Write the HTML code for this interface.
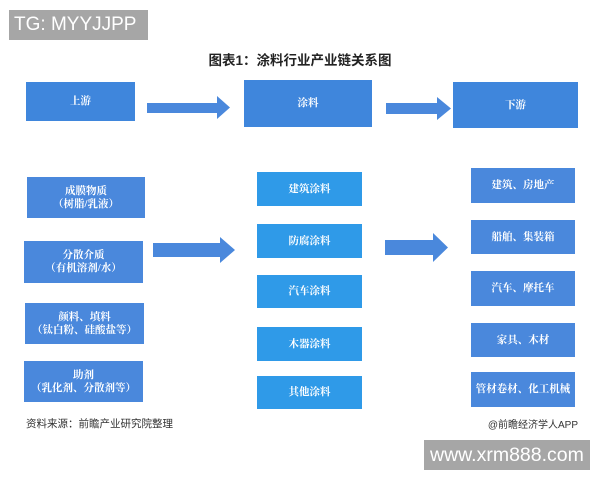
<!DOCTYPE html>
<html><head><meta charset="utf-8">
<style>
html,body{margin:0;padding:0;}
body{width:600px;height:480px;background:#fff;position:relative;overflow:hidden;font-family:"Liberation Sans","Noto Sans CJK SC",sans-serif;}
.b{position:absolute;display:flex;align-items:center;justify-content:center;text-align:center;color:#fff;font-weight:bold;font-size:10.5px;line-height:13px;font-family:"Liberation Serif","Noto Serif CJK SC",serif;}
.l{background:#4a88dc;}
.m{background:#2f9ae8;}
.t{background:#3f86dc;}
.g{position:absolute;background:#a6a6a6;color:#fff;font-family:"Liberation Sans",sans-serif;}
</style></head><body>
<div class="g" style="left:9px;top:10px;width:139px;height:30px;font-size:19px;line-height:30px;padding-left:5px;box-sizing:border-box;">TG: MYYJJPP</div>
<div style="position:absolute;left:150px;top:49px;width:300px;text-align:center;font-size:13.5px;font-weight:bold;color:#222;font-family:'Liberation Sans','Noto Sans CJK SC',sans-serif;">图表1：涂料行业产业链关系图</div>

<div class="b t" style="left:26px;top:82px;width:109px;height:39px;">上游</div>
<div class="b t" style="left:244px;top:80px;width:128px;height:47px;">涂料</div>
<div class="b t" style="left:453px;top:82px;width:125px;height:46px;">下游</div>

<svg style="position:absolute;left:0;top:0" width="600" height="480">
<polygon points="147,103 217,103 217,96 230,107.5 217,119 217,113 147,113" fill="#4a88dc"/>
<polygon points="386,103 437,103 437,97 451,108.5 437,120 437,114 386,114" fill="#4a88dc"/>
<polygon points="153,243 220,243 220,237 235,250 220,263 220,257 153,257" fill="#4a88dc"/>
<polygon points="385,240 433,240 433,233 448,247.5 433,262 433,255 385,255" fill="#4a88dc"/>
</svg>

<div class="b l" style="left:27px;top:177px;width:118px;height:41px;">成膜物质<br>（树脂/乳液）</div>
<div class="b l" style="left:24px;top:241px;width:119px;height:42px;">分散介质<br>（有机溶剂/水）</div>
<div class="b l" style="left:25px;top:303px;width:119px;height:41px;">颜料、填料<br>（钛白粉、硅酸盐等）</div>
<div class="b l" style="left:24px;top:361px;width:119px;height:41px;">助剂<br>（乳化剂、分散剂等）</div>

<div class="b m" style="left:257px;top:172px;width:105px;height:34px;">建筑涂料</div>
<div class="b m" style="left:257px;top:224px;width:105px;height:34px;">防腐涂料</div>
<div class="b m" style="left:257px;top:275px;width:105px;height:33px;">汽车涂料</div>
<div class="b m" style="left:257px;top:327px;width:105px;height:34px;">木器涂料</div>
<div class="b m" style="left:257px;top:376px;width:105px;height:33px;">其他涂料</div>

<div class="b l" style="left:471px;top:168px;width:104px;height:35px;">建筑、房地产</div>
<div class="b l" style="left:471px;top:220px;width:104px;height:34px;">船舶、集装箱</div>
<div class="b l" style="left:471px;top:271px;width:104px;height:35px;">汽车、摩托车</div>
<div class="b l" style="left:471px;top:323px;width:104px;height:34px;">家具、木材</div>
<div class="b l" style="left:471px;top:372px;width:104px;height:35px;">管材卷材、化工机械</div>

<div style="position:absolute;left:26px;top:416px;font-size:10.5px;color:#333;white-space:nowrap;font-family:'Liberation Sans','Noto Sans CJK SC',sans-serif;">资料来源：前瞻产业研究院整理</div>
<div style="position:absolute;right:22px;top:416px;font-size:10px;color:#333;white-space:nowrap;font-family:'Liberation Sans','Noto Sans CJK SC',sans-serif;">@前瞻经济学人APP</div>

<div class="g" style="left:424px;top:440px;width:166px;height:30px;font-size:19.5px;line-height:30px;padding-left:6px;box-sizing:border-box;">www.xrm888.com</div>
</body></html>
